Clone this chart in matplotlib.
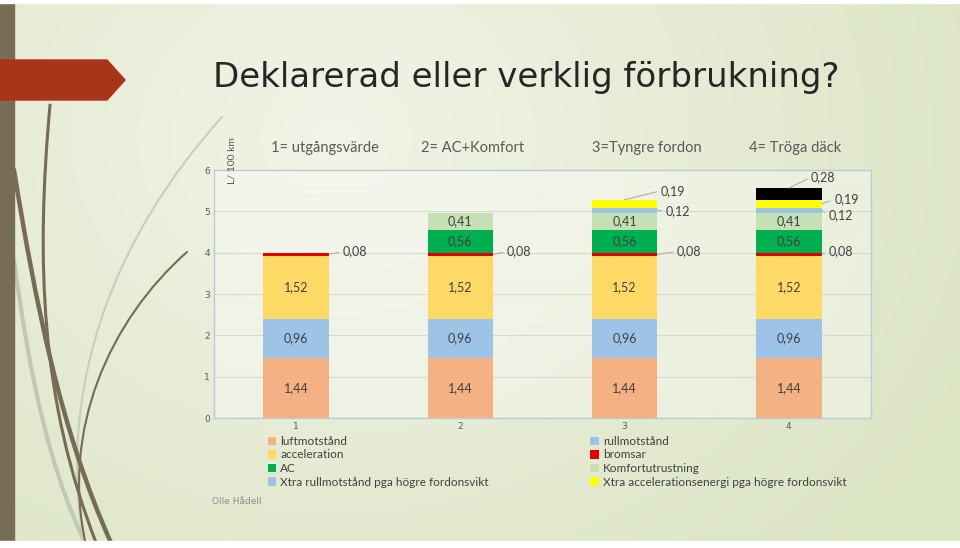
import matplotlib.pyplot as plt
import numpy as np
from matplotlib.patches import Rectangle, Polygon, PathPatch
from matplotlib.path import Path

# data (L / 100 km)
kategorier = [1, 2, 3, 4]
luftmotstand = [1.44, 1.44, 1.44, 1.44]
rullmotstand = [0.96, 0.96, 0.96, 0.96]
acceleration = [1.52, 1.52, 1.52, 1.52]
bromsar = [0.08, 0.08, 0.08, 0.08]
ac = [0, 0.56, 0.56, 0.56]
komfort = [0, 0.41, 0.41, 0.41]
xtra_rull = [0, 0, 0.12, 0.12]
xtra_acc = [0, 0, 0.19, 0.19]
troga_dack = [0, 0, 0, 0.28]

rubriker = ["1= utgångsvärde", "2= AC+Komfort", "3=Tyngre fordon", "4= Tröga däck"]

serier = [
    ("luftmotstånd", luftmotstand, "#F4B183"),
    ("rullmotstånd", rullmotstand, "#9DC3E6"),
    ("acceleration", acceleration, "#FFD966"),
    ("bromsar", bromsar, "#E50000"),
    ("AC", ac, "#00B050"),
    ("Komfortutrustning", komfort, "#C5E0B4"),
    ("Xtra rullmotstånd pga högre fordonsvikt", xtra_rull, "#9DC3E6"),
    ("Xtra accelerationsenergi pga högre fordonsvikt", xtra_acc, "#FFFF00"),
    ("_däck", troga_dack, "#000000"),
]

W, H = 960, 548
fig = plt.figure(figsize=(W / 100, H / 100), dpi=100)

# --- slide background ---
bg = fig.add_axes([0, 0, 1, 1], zorder=-10)
yy, xx = np.mgrid[0:1:200j, 0:1:300j]
t = np.clip(np.sqrt(((xx - 0.35) / 0.75) ** 2 + ((yy - 0.25) / 1.1) ** 2), 0, 1)
c0 = np.array([0.945, 0.955, 0.905])
c1 = np.array([0.86, 0.895, 0.765])
grad = c0 + (c1 - c0) * t[..., None]
bg.imshow(grad, extent=[0, W, H, 0], aspect="auto")
bg.set_xlim(0, W)
bg.set_ylim(H, 0)
bg.axis("off")

def kurva(pts, color, lw):
    path = Path(pts, [Path.MOVETO, Path.CURVE4, Path.CURVE4, Path.CURVE4])
    bg.add_patch(PathPatch(path, fc="none", ec=color, lw=lw, capstyle="round"))

kurva([(222, 117), (120, 230), (55, 380), (84, 545)], "#C9CEBB", 1.5)
kurva([(14, 260), (30, 380), (50, 470), (86, 545)], "#C3C8B4", 3)
kurva([(187, 252), (110, 320), (60, 430), (86, 545)], "#766B55", 1.5)
kurva([(50, 105), (36, 260), (40, 400), (97, 545)], "#766B55", 2.2)
kurva([(14, 170), (35, 300), (60, 430), (112, 545)], "#766B55", 3.2)

bg.add_patch(Rectangle((0, 0), 14, H, color="#776C56"))
bg.add_patch(Polygon([(0, 60), (107, 60), (125, 80), (107, 100), (0, 100)], color="#A8341A"))
bg.add_patch(Rectangle((0, 0), W, 3, color="white"))
bg.add_patch(Rectangle((0, 541), W, 7, color="white"))

def ftext(x, y, s, **kw):
    fig.text(x / W, 1 - y / H, s, **kw)

ftext(213, 77, "Deklarerad eller verklig förbrukning?", fontsize=24.5,
      color="#262626", va="center", ha="left")
ftext(212, 501, "Olle Hådell", fontsize=6.5, color="#8C8C8C", va="center")

# --- chart ---
font = "Lato"
ax = fig.add_axes([214 / W, 1 - 418 / H, 657 / W, 248 / H])
ax.set_facecolor((1, 1, 1, 0.35))

bottom = np.zeros(len(kategorier))
segment = {}
for namn, vals, farg in serier:
    vals = np.array(vals, dtype=float)
    ax.bar(kategorier, vals, width=0.4, bottom=bottom, color=farg, label=namn, zorder=3)
    segment[namn] = (bottom.copy(), vals)
    bottom = bottom + vals

fmt = lambda v: f"{v:.2f}".replace(".", ",")

# labels inside the bars
for namn in ["luftmotstånd", "rullmotstånd", "acceleration", "AC", "Komfortutrustning"]:
    b, v = segment[namn]
    for x, bb, vv in zip(kategorier, b, v):
        if vv > 0:
            ax.text(x, bb + vv / 2, fmt(vv), ha="center", va="center",
                    fontsize=9, color="#404040", family=font, zorder=4)

# small values with leader lines: (serie, kategori index, anchor, offset in points)
ledare = [
    ("bromsar", 0, "right", (10, 2)),
    ("bromsar", 1, "right", (10, 2)),
    ("bromsar", 2, "right", (14, 2)),
    ("bromsar", 3, "right", (5, 2)),
    ("Xtra rullmotstånd pga högre fordonsvikt", 2, "right", (6, -1)),
    ("Xtra rullmotstånd pga högre fordonsvikt", 3, "right", (5, -4)),
    ("Xtra accelerationsenergi pga högre fordonsvikt", 2, "top", (26, 6.5)),
    ("Xtra accelerationsenergi pga högre fordonsvikt", 3, "right", (9, 3)),
    ("_däck", 3, "top", (16, 8)),
]
for namn, i, anker, off in ledare:
    b, v = segment[namn]
    if anker == "right":
        xy = (kategorier[i] + 0.2, b[i] + v[i] / 2)
    else:
        xy = (kategorier[i], b[i] + v[i])
    ax.annotate(fmt(v[i]), xy=xy, xytext=off, textcoords="offset points",
                ha="left", va="center", fontsize=9, color="#404040", family=font,
                arrowprops=dict(arrowstyle="-", color="#A6A6A6", lw=0.7,
                                relpos=(0, 0.5), shrinkA=1, shrinkB=0),
                zorder=5)

ax.set_xlim(0.5, 4.5)
ax.set_ylim(0, 6)
ax.set_xticks(kategorier)
ax.set_yticks(range(7))
ax.set_yticks(np.arange(0, 6.01, 0.2), minor=True)
ax.tick_params(axis="both", length=0, labelsize=6.5, labelcolor="#595959", pad=3)
ax.tick_params(which="minor", length=0)
ax.grid(axis="y", which="major", color="#D6D9CF", lw=0.8, zorder=0)
ax.grid(axis="y", which="minor", color="#E9ECE2", lw=0.5, zorder=0)
for sp in ax.spines.values():
    sp.set_color("#B9CAD8")
    sp.set_linewidth(1)

for x, rubrik in zip([325, 473, 647, 795], rubriker):
    ftext(x, 148, rubrik, fontsize=10.5, color="#595959", ha="center", va="center", family=font)
fig.text(232 / W, 1 - 161 / H, "L/ 100 km", rotation=90, fontsize=7.5, color="#595959",
         ha="center", va="center", family=font)

handles, labels = ax.get_legend_handles_labels()
ordning = [0, 2, 4, 6, 1, 3, 5, 7]
fig.legend([handles[k] for k in ordning], [labels[k] for k in ordning], ncol=2,
           loc="upper left", bbox_to_anchor=(262 / W, 1 - 430 / H), frameon=False,
           prop={"family": font, "size": 8.5}, labelcolor="#404040",
           handlelength=0.7, handleheight=0.7, handletextpad=0.35,
           columnspacing=8.6, labelspacing=0.22, borderpad=0)

fig.savefig("out.png", dpi=100)
